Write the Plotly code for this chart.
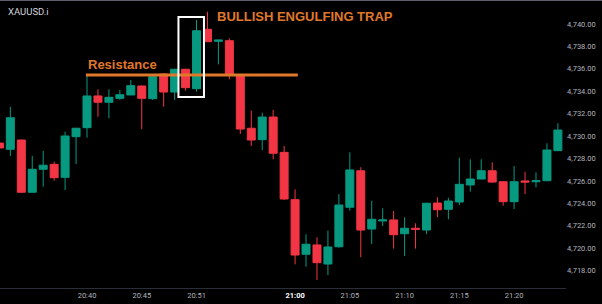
import plotly.graph_objects as go

symbol = "XAUUSD.i"
times = [f"20:{m:02d}" for m in range(32, 50)] + [f"20:{m:02d}" for m in range(51, 60)] + [f"21:{m:02d}" for m in range(0, 25)]

opens = [4729.38, 4728.82, 4729.65, 4724.99, 4727.04, 4727.48, 4726.32, 4729.95,
         4730.75, 4733.58, 4733.02, 4733.37, 4733.67, 4734.47, 4733.34, 4735.54, 4733.93, 4735.96,
         4734.23, 4739.53, 4738.46, 4738.51, 4735.36, 4730.70, 4729.68, 4731.70, 4728.55,
         4724.33, 4719.46, 4720.29, 4718.59, 4720.13, 4723.65, 4726.91, 4721.71, 4722.43, 4722.52,
         4721.29, 4721.78, 4721.62, 4724.03, 4723.47, 4724.12, 4725.64, 4726.17, 4726.91, 4725.93,
         4724.15, 4726.00, 4725.93, 4726.02, 4728.70]
highs = [4729.60, 4732.62, 4729.70, 4728.22, 4728.67, 4727.72, 4730.39, 4730.75,
         4735.45, 4734.17, 4734.17, 4734.11, 4735.00, 4734.50, 4735.45, 4735.60, 4736.00, 4736.00,
         4740.36, 4741.10, 4738.60, 4738.72, 4735.40, 4732.27, 4732.09, 4732.33, 4729.12,
         4725.25, 4721.24, 4720.97, 4721.56, 4724.83, 4728.55, 4727.22, 4724.24, 4723.56, 4723.32,
         4722.76, 4722.22, 4724.05, 4724.54, 4724.50, 4728.07, 4727.93, 4727.93, 4727.66, 4725.95,
         4727.33, 4726.82, 4726.77, 4729.36, 4731.14]
lows = [4728.70, 4728.22, 4724.95, 4724.95, 4725.49, 4726.02, 4725.19, 4727.51,
        4729.86, 4731.73, 4731.59, 4733.22, 4733.65, 4730.61, 4733.22, 4732.62, 4733.22, 4734.05,
        4733.96, 4738.40, 4736.40, 4735.07, 4730.19, 4729.12, 4728.76, 4727.93, 4724.30,
        4718.56, 4718.35, 4717.16, 4717.61, 4720.05, 4723.35, 4719.19, 4720.37, 4721.98, 4719.96,
        4719.30, 4719.96, 4721.27, 4722.76, 4722.58, 4723.85, 4725.04, 4726.15, 4725.85, 4723.79,
        4723.50, 4724.83, 4725.43, 4726.00, 4728.68]
closes = [4728.94, 4731.64, 4724.99, 4727.04, 4727.40, 4726.29, 4730.01, 4730.70,
          4733.58, 4733.02, 4733.46, 4733.69, 4734.50, 4733.37, 4735.30, 4733.93, 4735.96, 4734.32,
          4739.40, 4738.42, 4738.57, 4735.54, 4730.63, 4729.65, 4731.70, 4728.47, 4724.39,
          4719.39, 4720.35, 4718.71, 4720.11, 4723.85, 4726.98, 4721.62, 4722.58, 4722.52, 4721.20,
          4721.78, 4721.69, 4724.01, 4723.43, 4724.21, 4725.70, 4726.17, 4726.91, 4725.90, 4724.15,
          4725.93, 4725.90, 4726.02, 4728.76, 4730.54]

tick_times = ["20:40", "20:45", "20:51", "21:00", "21:05", "21:10", "21:15", "21:20"]
bold_time = "21:00"
price_ticks = [4718, 4720, 4722, 4724, 4726, 4728, 4730, 4732, 4734, 4736, 4738, 4740, 4742]
resistance = 4735.45
resist_start, resist_end = "20:40", "21:00"
trap_candles = ["20:49", "20:51"]
title_text = "BULLISH ENGULFING TRAP"
label_text = "Resistance"

UP = "#089981"
DOWN = "#F23645"
ORANGE = "#E0782A"
AXIS_TXT = "#b2b5be"

x = list(range(len(times)))
idx = {t: i for i, t in enumerate(times)}

fig = go.Figure()
fig.add_trace(go.Candlestick(
    x=x, open=opens, high=highs, low=lows, close=closes,
    increasing=dict(line=dict(color=UP, width=1), fillcolor=UP),
    decreasing=dict(line=dict(color=DOWN, width=1), fillcolor=DOWN),
    whiskerwidth=0, hoverinfo="skip", showlegend=False,
))

ticktext = [f"<b><span style='color:#ffffff'>{t}</span></b>" if t == bold_time else t for t in tick_times]

# resistance line
fig.add_shape(type="line", xref="x", yref="y",
              x0=idx[resist_start] - 0.1, x1=idx[resist_end] + 0.25,
              y0=resistance, y1=resistance,
              line=dict(color=ORANGE, width=3))
# trap box
t_idx = [idx[t] for t in trap_candles]
t_low = min(lows[i] for i in t_idx)
t_high = max(highs[i] for i in t_idx)
fig.add_shape(type="rect", xref="x", yref="y",
              x0=t_idx[0] - 0.65, x1=t_idx[-1] + 0.68,
              y0=t_low - 0.47, y1=t_high + 0.26,
              line=dict(color="#ffffff", width=2), fillcolor="rgba(0,0,0,0)")
# top border
fig.add_shape(type="line", xref="paper", yref="paper", x0=0, x1=1.1, y0=1, y1=1,
              line=dict(color="#5d606b", width=2))

fig.add_annotation(x=idx[resist_start] - 0.1, y=resistance + 0.9, xref="x", yref="y",
                   text=f"<b>{label_text}</b>", showarrow=False, xanchor="left", yanchor="middle",
                   font=dict(family="Liberation Sans, Arial", size=13, color=ORANGE))
fig.add_annotation(x=idx["20:52"] + 0.7, y=t_high + 0.35, xref="x", yref="y",
                   text=f"<b>{title_text}</b>", showarrow=False, xanchor="left", yanchor="middle",
                   font=dict(family="Liberation Sans, Arial", size=13, color=ORANGE))
fig.add_annotation(x=0.01, y=0.985, xref="paper", yref="paper",
                   text=symbol, showarrow=False, xanchor="left", yanchor="top",
                   font=dict(family="Roboto, Liberation Sans", size=9.5, color="#d1d4dc"))

fig.update_layout(
    width=602, height=304,
    margin=dict(l=0, r=36, t=0, b=16),
    paper_bgcolor="#000000", plot_bgcolor="#000000",
    boxgap=0.27, boxgroupgap=0,
    xaxis=dict(range=[0.055, 51.74], showgrid=False, zeroline=False,
               tickvals=[idx[t] for t in tick_times], ticktext=ticktext,
               tickfont=dict(family="Roboto, Liberation Sans", size=7.5, color=AXIS_TXT),
               ticks="", showline=True, linecolor="#2a2e39", linewidth=1,
               rangeslider=dict(visible=False), fixedrange=True),
    yaxis=dict(range=[4716.45, 4742.14], side="right", showgrid=False, zeroline=False,
               tickvals=price_ticks, tickformat=",.2f", ticks="",
               tickfont=dict(family="Roboto, Liberation Sans", size=7.5, color=AXIS_TXT),
               showline=False, fixedrange=True),
)

fig.write_html("out.html")
